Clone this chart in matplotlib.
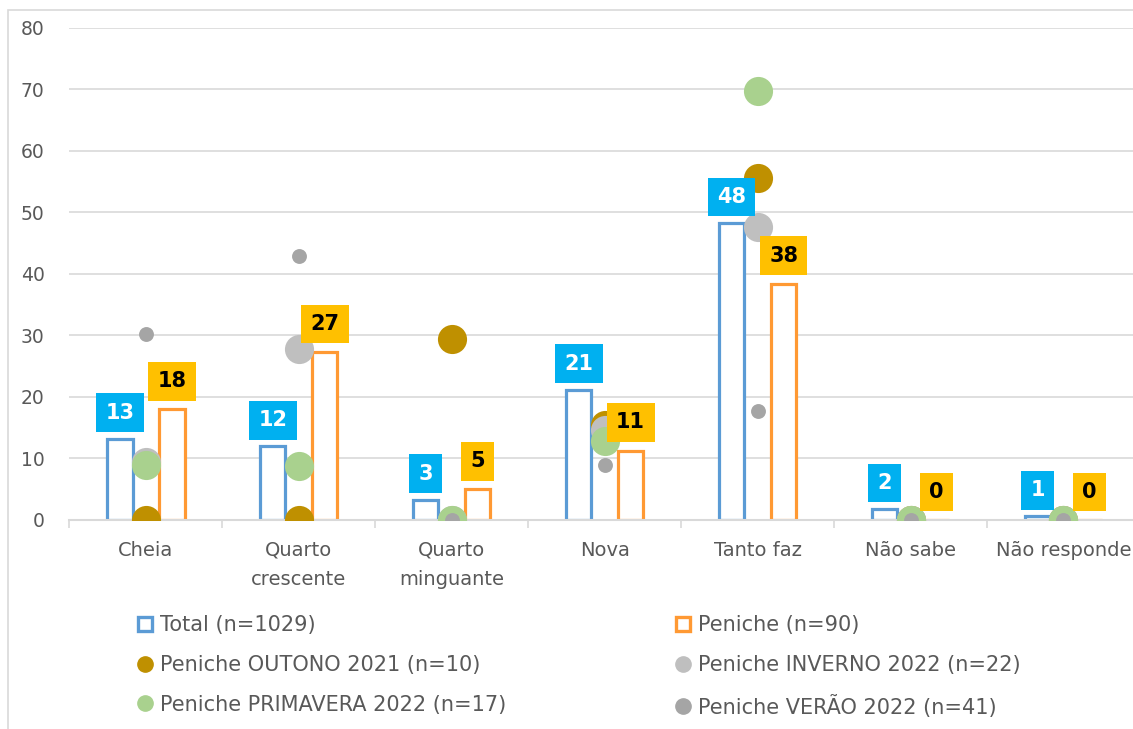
import matplotlib.pyplot as plt
import numpy as np
from matplotlib.lines import Line2D
from matplotlib.patches import Rectangle

categories = ['Cheia', 'Quarto\ncrescente', 'Quarto\nminguante', 'Nova',
              'Tanto faz', 'Não sabe', 'Não responde']
total = [13.2, 12.0, 3.3, 21.2, 48.3, 1.8, 0.6]
peniche = [18.0, 27.3, 5.0, 11.3, 38.4, 0.0, 0.0]
outono = [0.0, 0.0, 29.4, 15.5, 55.6, 0.0, 0.0]
inverno = [9.5, 27.8, 0.0, 14.6, 47.6, 0.0, 0.0]
primavera = [8.9, 8.8, 0.0, 12.9, 69.8, 0.0, 0.0]
verao = [30.2, 42.9, 0.0, 9.0, 17.8, 0.0, 0.0]

names = ['Total (n=1029)', 'Peniche (n=90)', 'Peniche OUTONO 2021 (n=10)',
         'Peniche INVERNO 2022 (n=22)', 'Peniche PRIMAVERA 2022 (n=17)',
         'Peniche VERÃO 2022 (n=41)']

c_total = '#5B9BD5'
c_pen = '#FF9933'
c_out = '#BF9000'
c_inv = '#BFBFBF'
c_pri = '#A9D18E'
c_ver = '#A5A5A5'
grid_c = '#D9D9D9'
txt_c = '#595959'

fig = plt.figure(figsize=(11.33, 7.29), dpi=100)
# light frame of the chart area
fig.patches.append(Rectangle((8 / 1133, -0.1), 1.2, 1.1 - 10 / 729,
                             transform=fig.transFigure, fill=False,
                             edgecolor=grid_c, lw=1.2))
ax = fig.add_axes([0.0613, 0.2867, 0.9448, 0.6749])

x = np.arange(len(categories))
off = 0.17
w = 0.165

ax.bar(x - off, total, w, facecolor='white', edgecolor=c_total, lw=2.3, zorder=2)
ax.bar(x + off, peniche, w, facecolor='white', edgecolor=c_pen, lw=2.3, zorder=2)

big = 440
ax.scatter(x, outono, s=big, color=c_out, zorder=3, lw=0)
ax.scatter(x, inverno, s=big, color=c_inv, zorder=3, lw=0)
ax.scatter(x, primavera, s=big, color=c_pri, zorder=3, lw=0)
ax.scatter(x, verao, s=115, color=c_ver, zorder=3, lw=0)

for xi, v in zip(x, total):
    ax.annotate(f'{v:.0f}', (xi - off, v), xytext=(0, 11.5), textcoords='offset points',
                ha='center', va='bottom', fontsize=15, fontweight='bold', color='white',
                bbox=dict(boxstyle='square,pad=0.45', fc='#00B0F0', ec='none'), zorder=5)
for xi, v in zip(x, peniche):
    ax.annotate(f'{v:.0f}', (xi + off, v), xytext=(0, 13), textcoords='offset points',
                ha='center', va='bottom', fontsize=15, fontweight='bold', color='black',
                bbox=dict(boxstyle='square,pad=0.45', fc='#FFC000', ec='none'), zorder=5)

ax.set_xlim(-0.5, len(categories) - 0.5)
ax.set_ylim(0, 80)
ax.set_yticks(np.arange(0, 81, 10))
ax.set_xticks(x)
ax.set_xticklabels(categories, linespacing=1.7)
ax.set_xticks(np.arange(-0.5, len(categories), 1), minor=True)
ax.tick_params(axis='x', which='major', length=0, pad=15, labelsize=14, labelcolor=txt_c)
ax.tick_params(axis='x', which='minor', length=6, color=grid_c, width=1.2)
ax.tick_params(axis='y', length=0, pad=18, labelsize=13.5, labelcolor=txt_c)
ax.grid(axis='y', color=grid_c, lw=1.2, zorder=0)
ax.set_axisbelow(True)
for s in ['top', 'right', 'left']:
    ax.spines[s].set_visible(False)
ax.spines['bottom'].set_color(grid_c)
ax.spines['bottom'].set_linewidth(1.5)

def sq(c):
    return Line2D([], [], marker='s', ls='', markerfacecolor='white',
                  markeredgecolor=c, markeredgewidth=2.4, markersize=10.5)

def dot(c):
    return Line2D([], [], marker='o', ls='', color=c, markersize=11)

handles = [sq(c_total), dot(c_out), dot(c_pri), sq(c_pen), dot(c_inv), dot(c_ver)]
labels = [names[0], names[2], names[4], names[1], names[3], names[5]]
fig.legend(handles, labels, ncol=2, loc='upper left',
           bbox_to_anchor=(137 / 1133, 1 - 615 / 729), frameon=False,
           fontsize=15, labelcolor=txt_c, handlelength=0.8, handletextpad=0.3,
           labelspacing=0.95, columnspacing=8.1, borderpad=0, borderaxespad=0)

fig.savefig('out.png', dpi=100)
